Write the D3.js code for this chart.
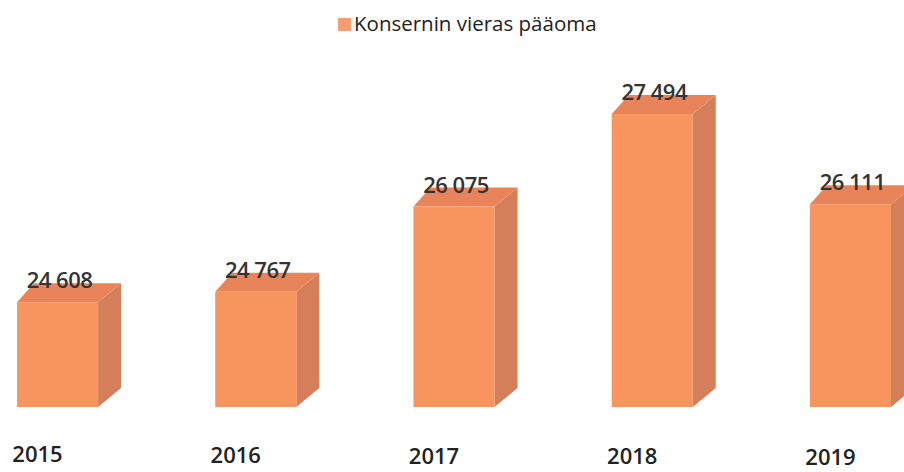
<!DOCTYPE html>
<html>
<head>
<meta charset="utf-8">
<script src="https://cdn.jsdelivr.net/npm/d3@7"></script>
<style>
	body { margin: 0; background: #fff; }
	svg { display: block; font-family: "Open Sans", "Noto Sans", sans-serif; }
</style>
</head>
<body>
<svg id="chart" width="904" height="472"></svg>
<script>
var years = ["2015", "2016", "2017", "2018", "2019"];
var values = [24608, 24767, 26075, 27494, 26111];
var valueLabels = ["24 608", "24 767", "26 075", "27 494", "26 111"];
var seriesName = "Konsernin vieras pääoma";

var svg = d3.select("#chart");

var frontColor = "#f8955f",
	sideColor = "#d57f5a",
	topColor = "#e9845a";

// depth of the fake 3d boxes
var dxLeft = 17, dxRight = 23, dy = 19;

var x = d3.scaleBand()
			.domain(years)
			.range([17, 891])
			.paddingInner(0.591)
			.paddingOuter(0);

var y = d3.scaleLinear()
			.domain([23000, 28000])
			.range([407, 81]);

var bars = svg.append("g")
	.selectAll("g")
	.data(values)
	.enter()
	.append("g");

// side face
bars.append("path")
	.attr("d", function(d, i) {
		var x1 = x(years[i]) + x.bandwidth(), y0 = y(d), yb = y.range()[0];
		var p = d3.path();
		p.moveTo(x1, y0);
		p.lineTo(x1 + dxRight, y0 - dy);
		p.lineTo(x1 + dxRight, yb - dy);
		p.lineTo(x1, yb);
		p.closePath();
		return p.toString();
	})
	.style("fill", sideColor);

// top face
bars.append("path")
	.attr("d", function(d, i) {
		var x0 = x(years[i]), x1 = x0 + x.bandwidth(), y0 = y(d);
		var p = d3.path();
		p.moveTo(x0, y0);
		p.lineTo(x1, y0);
		p.lineTo(x1 + dxRight, y0 - dy);
		p.lineTo(x0 + dxLeft, y0 - dy);
		p.closePath();
		return p.toString();
	})
	.style("fill", topColor);

// front face
bars.append("rect")
	.attr("x", function(d, i) { return x(years[i]); })
	.attr("y", function(d) { return y(d); })
	.attr("width", x.bandwidth())
	.attr("height", function(d) { return y.range()[0] - y(d); })
	.style("fill", frontColor);

// value labels
bars.append("text")
	.attr("x", function(d, i) { return x(years[i]) + x.bandwidth() / 2 + 2; })
	.attr("y", function(d) { return y(d) - dy + 5; })
	.attr("text-anchor", "middle")
	.style("font-size", "22px")
	.style("font-weight", "600")
	.style("letter-spacing", "-0.5px")
	.style("fill", "#333")
	.text(function(d, i) { return valueLabels[i]; });

// category labels
svg.append("g")
	.selectAll("text")
	.data(years)
	.enter()
	.append("text")
	.attr("x", function(d) { return x(d) + x.bandwidth() / 2 - 20; })
	.attr("y", function(d, i) { return 462 + i * 0.8; })
	.attr("text-anchor", "middle")
	.style("font-size", "22px")
	.style("font-weight", "600")
	.style("fill", "#222")
	.text(function(d) { return d; });

// legend
var legend = svg.append("g").attr("transform", "translate(338, 18)");
legend.append("rect")
	.attr("width", 13)
	.attr("height", 13)
	.style("fill", "#f59d72");
legend.append("text")
	.attr("x", 16)
	.attr("y", 13)
	.style("font-size", "20.5px")
	.style("fill", "#222")
	.text(seriesName);
</script>
</body>
</html>
